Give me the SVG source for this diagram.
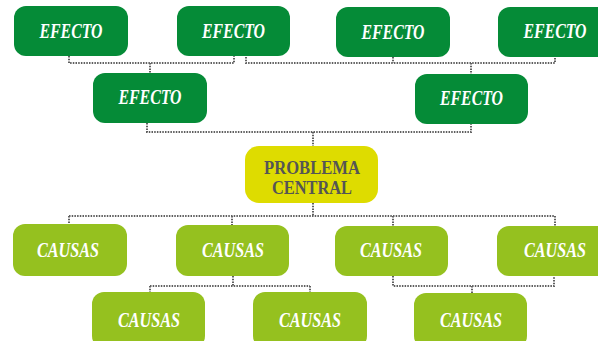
<svg xmlns="http://www.w3.org/2000/svg" width="598" height="341" viewBox="0 0 598 341">
<style>
.ef{fill:#058b37}
.ca{fill:#95c11f}
.ce{fill:#dedc00}
.t{font-family:"Liberation Serif","Times New Roman",serif;font-weight:bold;font-style:italic;font-size:20px;fill:#ffffff;text-anchor:middle}
.tc{font-family:"Liberation Serif","Times New Roman",serif;font-weight:bold;font-size:19px;fill:#555555;text-anchor:middle}
.c{fill:none;stroke:#5f5f5f;stroke-width:2;stroke-dasharray:1.5 1.2}
</style>
<rect width="598" height="341" fill="#ffffff"/>
<g id="connectors">
<path class="c" d="M69 56V63H234V56M150 63V73"/>
<path class="c" d="M246 57V63H555V57M393 57V63M471 63V74"/>
<path class="c" d="M147 123V132H471V124M313 132V146"/>
<path class="c" d="M313 203V216M69 216H555M69 216V224M232 216V225M393 216V226M555 216V226"/>
<path class="c" d="M233 276V286M150 286H310M150 286V292M310 286V292"/>
<path class="c" d="M393 276V286H554V276M472 286V293"/>
</g>
<g id="efecto1"><rect class="ef" x="14" y="6" width="114" height="50" rx="12"/><text class="t" x="71" y="38" textLength="63" lengthAdjust="spacingAndGlyphs">EFECTO</text></g>
<g id="efecto2"><rect class="ef" x="177" y="6" width="113" height="50" rx="12"/><text class="t" x="233.5" y="38" textLength="63" lengthAdjust="spacingAndGlyphs">EFECTO</text></g>
<g id="efecto3"><rect class="ef" x="336" y="7" width="114" height="50" rx="12"/><text class="t" x="393" y="39" textLength="63" lengthAdjust="spacingAndGlyphs">EFECTO</text></g>
<g id="efecto4"><rect class="ef" x="498" y="7" width="114" height="50" rx="12"/><text class="t" x="555" y="38" textLength="63" lengthAdjust="spacingAndGlyphs">EFECTO</text></g>
<g id="efecto5"><rect class="ef" x="93" y="73" width="114" height="50" rx="12"/><text class="t" x="150" y="104" textLength="63" lengthAdjust="spacingAndGlyphs">EFECTO</text></g>
<g id="efecto6"><rect class="ef" x="415" y="74" width="113" height="50" rx="12"/><text class="t" x="471.5" y="105" textLength="63" lengthAdjust="spacingAndGlyphs">EFECTO</text></g>
<g id="central"><rect class="ce" x="245" y="146" width="133" height="57" rx="14"/><text class="tc" x="312" y="174" textLength="96" lengthAdjust="spacingAndGlyphs">PROBLEMA</text><text class="tc" x="312" y="194" textLength="80" lengthAdjust="spacingAndGlyphs">CENTRAL</text></g>
<g id="causas1"><rect class="ca" x="13" y="224" width="114" height="52" rx="12"/><text class="t" x="68" y="257" textLength="62" lengthAdjust="spacingAndGlyphs">CAUSAS</text></g>
<g id="causas2"><rect class="ca" x="176" y="225" width="113" height="51" rx="12"/><text class="t" x="233" y="257" textLength="62" lengthAdjust="spacingAndGlyphs">CAUSAS</text></g>
<g id="causas3"><rect class="ca" x="335" y="226" width="113" height="50" rx="12"/><text class="t" x="391" y="257" textLength="62" lengthAdjust="spacingAndGlyphs">CAUSAS</text></g>
<g id="causas4"><rect class="ca" x="497" y="226" width="114" height="50" rx="12"/><text class="t" x="555" y="257" textLength="62" lengthAdjust="spacingAndGlyphs">CAUSAS</text></g>
<g id="causas5"><rect class="ca" x="92" y="292" width="113" height="56" rx="12"/><text class="t" x="149" y="327" textLength="62" lengthAdjust="spacingAndGlyphs">CAUSAS</text></g>
<g id="causas6"><rect class="ca" x="253" y="292" width="114" height="56" rx="12"/><text class="t" x="310" y="327" textLength="62" lengthAdjust="spacingAndGlyphs">CAUSAS</text></g>
<g id="causas7"><rect class="ca" x="414" y="293" width="113" height="55" rx="12"/><text class="t" x="471" y="327" textLength="62" lengthAdjust="spacingAndGlyphs">CAUSAS</text></g>
</svg>
